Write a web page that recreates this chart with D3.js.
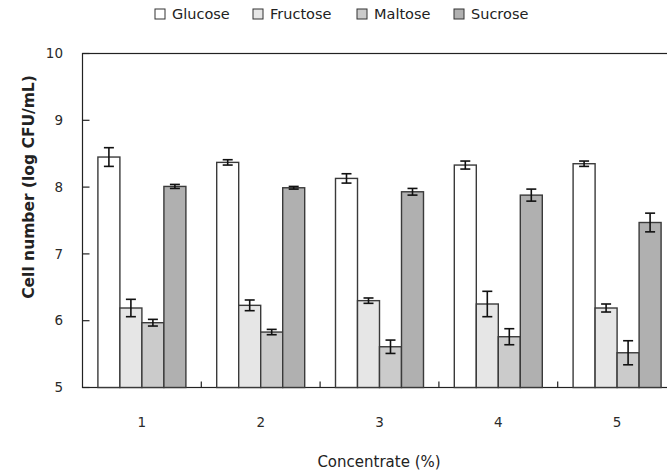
<!DOCTYPE html>
<html>
<head>
<meta charset="utf-8">
<script src="https://cdn.jsdelivr.net/npm/d3@7"></script>
<style>
  body { margin: 0; background: #fff; overflow: hidden; }
  svg { display: block; font-family: "DejaVu Sans", sans-serif; }
  .tick-label { font-size: 13.5px; fill: #2a2a2a; }
</style>
</head>
<body>
<div class="viz"></div>
<script>
const width = 667;
const height = 475;

const concentrations = ["1", "2", "3", "4", "5"];
const sugars = ["Glucose", "Fructose", "Maltose", "Sucrose"];
const sugarColors = ["#ffffff", "#e6e6e6", "#cbcbcb", "#b0b0b0"];

// mean cell number per concentration, one array per sugar
const glucose = [8.45, 8.37, 8.13, 8.33, 8.35];
const fructose = [6.19, 6.23, 6.30, 6.25, 6.19];
const maltose = [5.97, 5.83, 5.61, 5.76, 5.52];
const sucrose = [8.01, 7.99, 7.93, 7.88, 7.47];

// error bars (+/-)
const glucoseErr = [0.14, 0.04, 0.07, 0.06, 0.04];
const fructoseErr = [0.13, 0.08, 0.04, 0.19, 0.06];
const maltoseErr = [0.05, 0.04, 0.10, 0.12, 0.18];
const sucroseErr = [0.03, 0.02, 0.05, 0.09, 0.14];

const yTicks = [5, 6, 7, 8, 9, 10];

const values = [glucose, fructose, maltose, sucrose];
const errors = [glucoseErr, fructoseErr, maltoseErr, sucroseErr];

const data = concentrations.map((c, i) =>
  sugars.map((s, j) => ({ conc: c, sugar: s, value: values[j][i], err: errors[j][i] }))
);

const plot = { left: 82.5, right: 676.5, top: 53.5, bottom: 387.5 };

const svg = d3.select(".viz").append("svg").attr("width", width).attr("height", height);

const x = d3.scaleBand().domain(concentrations).range([plot.left, plot.right]);
const xInner = d3.scaleBand().domain(sugars).range([0, x.bandwidth()]).paddingOuter(0.7);
const y = d3.scaleLinear().domain([5, 10]).range([plot.bottom, plot.top]);

// frame
svg.append("rect")
  .attr("x", plot.left).attr("y", plot.top)
  .attr("width", plot.right - plot.left).attr("height", plot.bottom - plot.top)
  .attr("fill", "none").attr("stroke", "#222").attr("stroke-width", 1.2);

// bars
const groups = svg.append("g").attr("class", "bars")
  .selectAll("g")
  .data(data)
  .join("g")
  .attr("transform", (d, i) => `translate(${x(concentrations[i])},0)`);

groups.selectAll("rect")
  .data((d) => d)
  .join("rect")
  .attr("x", (d) => xInner(d.sugar))
  .attr("width", xInner.bandwidth())
  .attr("y", (d) => y(d.value))
  .attr("height", (d) => y(5) - y(d.value))
  .attr("fill", (d, i) => sugarColors[i])
  .attr("stroke", "#3a3a3a")
  .attr("stroke-width", 1.4);

// error bars
const eb = groups.selectAll("g.err")
  .data((d) => d)
  .join("g")
  .attr("class", "err")
  .attr("stroke", "#111")
  .attr("stroke-width", 1.6);

const cx = (d) => xInner(d.sugar) + xInner.bandwidth() / 2;
eb.append("line")
  .attr("x1", cx).attr("x2", cx)
  .attr("y1", (d) => y(d.value + d.err)).attr("y2", (d) => y(d.value - d.err));
eb.append("line")
  .attr("x1", (d) => cx(d) - 5).attr("x2", (d) => cx(d) + 5)
  .attr("y1", (d) => y(d.value + d.err)).attr("y2", (d) => y(d.value + d.err));
eb.append("line")
  .attr("x1", (d) => cx(d) - 5).attr("x2", (d) => cx(d) + 5)
  .attr("y1", (d) => y(d.value - d.err)).attr("y2", (d) => y(d.value - d.err));

// y axis: inward ticks
const yAxis = svg.append("g").attr("class", "y-axis");
yAxis.selectAll("line")
  .data(yTicks)
  .join("line")
  .attr("x1", plot.left).attr("x2", plot.left + 7)
  .attr("y1", (d) => y(d)).attr("y2", (d) => y(d))
  .attr("stroke", "#222").attr("stroke-width", 1.2);
yAxis.selectAll("text")
  .data(yTicks)
  .join("text")
  .attr("class", "tick-label")
  .attr("x", 63)
  .attr("y", (d) => y(d))
  .attr("dy", "0.35em")
  .attr("text-anchor", "end")
  .text((d) => d);

// x axis: separator ticks between groups, labels centred
const xAxis = svg.append("g").attr("class", "x-axis");
xAxis.selectAll("line")
  .data(concentrations.slice(1))
  .join("line")
  .attr("x1", (d) => x(d)).attr("x2", (d) => x(d))
  .attr("y1", plot.bottom).attr("y2", plot.bottom - 6)
  .attr("stroke", "#222").attr("stroke-width", 1.2);
xAxis.selectAll("text")
  .data(concentrations)
  .join("text")
  .attr("class", "tick-label")
  .attr("x", (d) => x(d) + x.bandwidth() / 2)
  .attr("y", 427)
  .attr("text-anchor", "middle")
  .text((d) => d);

// axis titles
svg.append("text")
  .attr("x", 379).attr("y", 467)
  .attr("text-anchor", "middle")
  .attr("font-size", 15)
  .attr("fill", "#222")
  .text("Concentrate (%)");

svg.append("text")
  .attr("transform", "translate(34,187) rotate(-90)")
  .attr("text-anchor", "middle")
  .attr("font-size", 15.5)
  .attr("font-weight", "bold")
  .attr("fill", "#222")
  .text("Cell number (log CFU/mL)");

// legend
const legendX = [155, 253, 357, 454];
const legend = svg.append("g").attr("class", "legend")
  .selectAll("g")
  .data(sugars)
  .join("g")
  .attr("transform", (d, i) => `translate(${legendX[i]},9)`);
legend.append("rect")
  .attr("width", 10).attr("height", 10)
  .attr("fill", (d, i) => sugarColors[i])
  .attr("stroke", "#333").attr("stroke-width", 1);
legend.append("text")
  .attr("x", 17).attr("y", 5)
  .attr("dy", "0.35em")
  .attr("font-size", 14.5)
  .attr("fill", "#222")
  .text((d) => d);
</script>
</body>
</html>
